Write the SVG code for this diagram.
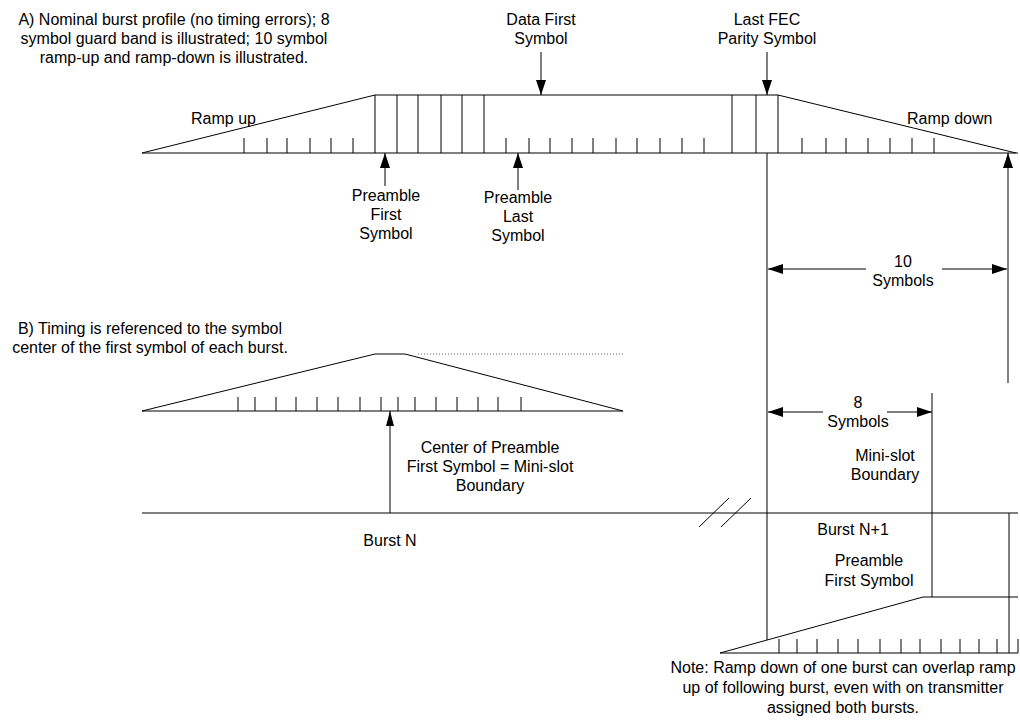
<svg xmlns="http://www.w3.org/2000/svg" width="1020" height="724" viewBox="0 0 1020 724">
<style>
text{font-family:"Liberation Sans",Arial,sans-serif;font-size:16px;fill:#000}
.c{text-anchor:middle}
.ln{stroke:#000;stroke-width:1;fill:none}
.tk{stroke:#000;stroke-width:1}
.dot{stroke:#666;stroke-width:1;stroke-dasharray:1 2;fill:none}
</style>
<defs>
<marker id="ah" viewBox="0 0 15 10" refX="15" refY="5" markerWidth="15" markerHeight="10" markerUnits="userSpaceOnUse" orient="auto"><path d="M0,0 L15,5 L0,10 z" fill="#000"/></marker>
<marker id="ahs" viewBox="0 0 15 8" refX="15" refY="4" markerWidth="15" markerHeight="8" markerUnits="userSpaceOnUse" orient="auto"><path d="M0,0 L15,4 L0,8 z" fill="#000"/></marker>
</defs>

<g id="titleA"><text class="c" x="174" y="25">A) Nominal burst profile (no timing errors); 8</text><text class="c" x="174" y="44">symbol guard band is illustrated; 10 symbol</text><text class="c" x="174" y="63">ramp-up and ramp-down is illustrated.</text></g>

<g id="burstA">
<path class="ln" d="M142,153 H1018 M142,153 L375,95 H778 L1016,153"/>
<path class="tk" d="M244,138V153M267,138V153M287,138V153M310,138V153M331,138V153M353,138V153"/>
<path class="tk" d="M375,95V153M397,95V153M418,95V153M441,95V153M462,95V153M484,95V153"/>
<path class="tk" d="M506,138V153M529,138V153M550,138V153M572,138V153M593,138V153M616,138V153M637,138V153M660,138V153M682,138V153M704,138V153"/>
<path class="tk" d="M732,95V153M756,95V153M778,95V153"/>
<path class="tk" d="M802,138V153M826,138V153M846,138V153M868,138V153M890,138V153M912,138V153M934,138V153"/>
</g>
<g id="lblRampUp"><text x="191" y="124">Ramp up</text></g>
<g id="lblRampDown"><text x="907" y="124">Ramp down</text></g>
<g id="lblDataFirst"><text class="c" x="541" y="25">Data First</text><text class="c" x="541" y="44">Symbol</text></g>
<g id="lblLastFEC"><text class="c" x="767" y="25">Last FEC</text><text class="c" x="767" y="44">Parity Symbol</text></g>
<g id="lblPreFirst"><text class="c" x="386" y="201">Preamble</text><text class="c" x="386" y="220">First</text><text class="c" x="386" y="239">Symbol</text></g>
<g id="lblPreLast"><text class="c" x="518" y="203">Preamble</text><text class="c" x="518" y="222">Last</text><text class="c" x="518" y="241">Symbol</text></g>
<g id="lbl10"><text class="c" x="903" y="267">10</text><text class="c" x="903" y="286">Symbols</text></g>

<g id="titleB"><text class="c" x="150" y="334">B) Timing is referenced to the symbol</text><text class="c" x="150" y="353">center of the first symbol of each burst.</text></g>
<g id="burstB">
<path class="ln" d="M142,411 H623 M142,411 L375,354 H405 L623,411"/>
<path class="dot" d="M418,354 H623"/>
<path class="tk" d="M238,397V411M255,397V411M276,397V411M296,397V411M317,397V411M338,397V411M360,397V411M381,397V411M398,397V411M415,397V411M436,397V411M457,397V411M478,397V411M498,397V411M521,397V411"/>
</g>
<g id="lblCenter"><text class="c" x="490" y="453">Center of Preamble</text><text class="c" x="490" y="472">First Symbol = Mini-slot</text><text class="c" x="490" y="491">Boundary</text></g>
<g id="lbl8"><text class="c" x="858" y="408">8</text><text class="c" x="858" y="427">Symbols</text></g>
<g id="lblMiniSlot"><text class="c" x="885" y="461">Mini-slot</text><text class="c" x="885" y="480">Boundary</text></g>

<g id="timeline">
<path class="ln" d="M142,513 H1018"/>
<path class="ln" d="M699,527 L729,498 M721,527 L751,498"/>
</g>
<g id="lblBurstN"><text class="c" x="390" y="546">Burst N</text></g>
<g id="lblBurstN1"><text class="c" x="853" y="535">Burst N+1</text></g>
<g id="lblPreFirst2"><text class="c" x="869" y="566">Preamble</text><text class="c" x="869" y="586">First Symbol</text></g>

<g id="burstC">
<path class="ln" d="M720,653 H1018 M720,653 L923,597 H1018"/>
<path class="tk" d="M779,639V653M797,639V653M817,639V653M838,639V653M858,639V653M880,639V653M901,639V653M920,639V653M941,639V653M960,639V653M979,639V653M997,639V653M1018,639V653"/>
</g>
<g id="note"><text class="c" x="843" y="673">Note: Ramp down of one burst can overlap ramp</text><text class="c" x="843" y="693">up of following burst, even with on transmitter</text><text class="c" x="843" y="713">assigned both bursts.</text></g>

<g id="connectors">
<path class="ln" d="M541,52 V95" marker-end="url(#ah)"/>
<path class="ln" d="M767,52 V95" marker-end="url(#ah)"/>
<path class="ln" d="M385,186 V153" marker-end="url(#ah)"/>
<path class="ln" d="M518,190 V153" marker-end="url(#ah)"/>
<path class="ln" d="M1008,383 V153" marker-end="url(#ah)"/>
<path class="ln" d="M767,153 V640"/>
<path class="ln" d="M866,269 H768" marker-end="url(#ah)"/>
<path class="ln" d="M942,269 H1007" marker-end="url(#ah)"/>
<path class="ln" d="M390,513 V411" marker-end="url(#ahs)"/>
<path class="ln" d="M932,393 V597"/>
<path class="ln" d="M823,412 H768" marker-end="url(#ah)"/>
<path class="ln" d="M887,412 H932" marker-end="url(#ah)"/>
<path class="ln" d="M1009,513 V653"/>
</g>
</svg>
